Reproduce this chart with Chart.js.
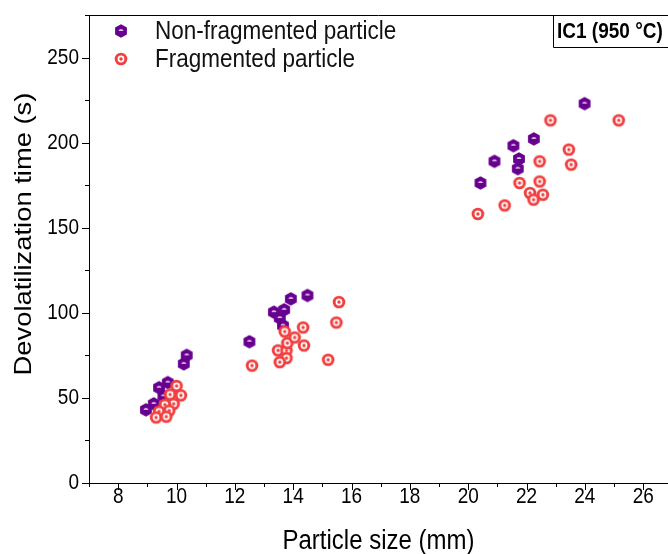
<!DOCTYPE html>
<html>
<head>
<meta charset="utf-8">
<script src="https://cdn.jsdelivr.net/npm/chart.js@4/dist/chart.umd.min.js"></script>
<style>
  html, body { margin: 0; padding: 0; background: #fff; overflow: hidden; }
  #wrap { width: 668px; height: 554px; position: relative; }
</style>
</head>
<body>
<div id="wrap"><canvas id="chart" width="668" height="554"></canvas></div>
<script>
// Particle size (mm) and devolatilization time (s), IC1 coal at 950 °C
const nonFragSize = [8.95, 9.22, 9.40, 9.70, 9.55, 10.25, 10.35,
                     12.50, 13.34, 13.69, 13.54, 13.65, 13.92, 14.49,
                     20.42, 20.90, 21.55, 21.74, 21.70, 22.25, 23.99];
const nonFragTime = [43, 46.5, 56, 59, 51, 70, 75,
                     83, 100.4, 101.8, 96.9, 92.5, 108.2, 110.2,
                     176.3, 189, 198.2, 190.4, 184.7, 202.2, 222.9];

const fragSize = [10.00, 9.78, 10.15, 9.90, 9.60, 9.75, 9.40, 9.30, 9.65,
                  12.59, 13.48, 13.77, 13.77, 13.54, 13.80, 14.05, 14.37, 14.34, 13.71, 15.20, 15.48, 15.57,
                  20.33, 21.25, 21.76, 22.12, 22.24, 22.56, 22.45, 22.45, 22.82, 23.45, 23.53, 25.16];
const fragTime = [57, 52, 51.5, 46.5, 46, 42.5, 42, 38.5, 39,
                  69.0, 77.9, 77.8, 73.4, 71.0, 82.2, 85.5, 80.8, 91.4, 89.0, 72.4, 94.3, 106.3,
                  158.1, 163.1, 176.3, 170.4, 166.5, 169.4, 177.2, 189, 213.1, 195.9, 187.1, 213.1];

const seriesNames = ['Non-fragmented particle', 'Fragmented particle'];
const panelLabel = 'IC1 (950 °C)';
const xTitle = 'Particle size (mm)';
const yTitle = 'Devolatilization time (s)';
const xTickValues = [8, 10, 12, 14, 16, 18, 20, 22, 24, 26];
const yTickValues = [0, 50, 100, 150, 200, 250];

const PURPLE = '#67008e';
const RED = '#f13f3f';
const FONT = '"Liberation Sans", Arial, sans-serif';
const TEXT_STRETCH = 1.14;   // glyphs are drawn slightly taller than wide

// Marker sprites: filled hexagon with a small highlight, and a target ring
function hexSprite() {
  const c = document.createElement('canvas');
  c.width = 16; c.height = 16;
  const g = c.getContext('2d');
  g.beginPath();
  for (let i = 0; i < 6; i++) {
    const a = -Math.PI / 2 + i * Math.PI / 3;
    const px = 8 + 6.8 * Math.cos(a), py = 8 + 6.8 * Math.sin(a);
    i ? g.lineTo(px, py) : g.moveTo(px, py);
  }
  g.closePath();
  g.fillStyle = PURPLE;
  g.fill();
  g.beginPath();
  g.ellipse(8, 7.8, 2.5, 1.6, 0, Math.PI, 2 * Math.PI);
  g.closePath();
  g.fillStyle = '#fff';
  g.fill();
  return c;
}
function ringSprite() {
  const c = document.createElement('canvas');
  c.width = 16; c.height = 16;
  const g = c.getContext('2d');
  g.fillStyle = RED;
  g.beginPath(); g.arc(8, 8, 6.3, 0, 2 * Math.PI); g.fill();
  g.fillStyle = '#fff';
  g.beginPath(); g.arc(8, 8, 3.4, 0, 2 * Math.PI); g.fill();
  g.fillStyle = RED;
  g.beginPath(); g.arc(8, 8, 1.7, 0, 2 * Math.PI); g.fill();
  return c;
}
const hexImg = hexSprite();
const ringImg = ringSprite();

const toPoints = (xs, ys) => xs.map((x, i) => ({ x: x, y: ys[i] }));

// Text drawn with a slight vertical stretch; rotated text stretches along its length
function stretchedText(ctx, text, x, y, font, align, rotated) {
  ctx.save();
  ctx.translate(x, y);
  if (rotated) {
    ctx.rotate(-Math.PI / 2);
    ctx.scale(TEXT_STRETCH, 1);
  } else {
    ctx.scale(1, TEXT_STRETCH);
  }
  ctx.font = font;
  ctx.textAlign = align;
  ctx.textBaseline = 'middle';
  ctx.fillText(text, 0, 0);
  ctx.restore();
}

// Tick marks and labels, frame top edge, axis titles, legend and panel label
const decorations = {
  id: 'decorations',
  afterDraw(chart) {
    const ctx = chart.ctx;
    const xs = chart.scales.x, ys = chart.scales.y;
    const area = chart.chartArea;
    ctx.save();
    ctx.strokeStyle = '#000';
    ctx.lineWidth = 1;
    ctx.beginPath();
    // x ticks: major on even values, minor on odd
    for (let v = 7; v <= 26; v++) {
      const px = Math.round(xs.getPixelForValue(v)) + 0.5;
      const len = v % 2 === 0 ? 7 : 4;
      ctx.moveTo(px, area.bottom);
      ctx.lineTo(px, area.bottom + len);
    }
    // y ticks: major every 50, minor every 25
    for (let v = 0; v <= 275; v += 25) {
      const py = Math.round(ys.getPixelForValue(v)) + 0.5;
      const len = v % 50 === 0 ? 7 : 4;
      ctx.moveTo(area.left, py);
      ctx.lineTo(area.left - len, py);
    }
    // top edge of the frame
    ctx.moveTo(area.left, Math.round(area.top) + 0.5);
    ctx.lineTo(area.right, Math.round(area.top) + 0.5);
    ctx.stroke();

    ctx.fillStyle = '#000';
    const tickFont = '19px ' + FONT;
    xTickValues.forEach(v => {
      stretchedText(ctx, String(v), xs.getPixelForValue(v), area.bottom + 14, tickFont, 'center', false);
    });
    yTickValues.forEach(v => {
      stretchedText(ctx, String(v), area.left - 10, ys.getPixelForValue(v), tickFont, 'right', false);
    });

    // axis titles
    const titleFont = '24px ' + FONT;
    stretchedText(ctx, xTitle, (area.left + area.right) / 2, 541, titleFont, 'center', false);
    stretchedText(ctx, yTitle, 24, 234, titleFont, 'center', true);

    // legend
    ctx.drawImage(hexImg, 121 - 8, 31 - 8);
    ctx.drawImage(ringImg, 121 - 8, 59 - 8);
    ctx.fillStyle = '#111';
    const legendFont = '22.5px ' + FONT;
    stretchedText(ctx, seriesNames[0], 155, 32, legendFont, 'left', false);
    stretchedText(ctx, seriesNames[1], 155, 60, legendFont, 'left', false);

    // panel label box
    ctx.beginPath();
    ctx.rect(553.5, Math.round(area.top) + 0.5, 120, 32);
    ctx.stroke();
    ctx.fillStyle = '#000';
    stretchedText(ctx, panelLabel, 557, 32, 'bold 19px ' + FONT, 'left', false);
    ctx.restore();
  }
};

const noPadding = scale => {
  scale.paddingLeft = 0; scale.paddingRight = 0;
  scale.paddingTop = 0; scale.paddingBottom = 0;
};

new Chart(document.getElementById('chart'), {
  type: 'scatter',
  data: {
    datasets: [
      {
        label: seriesNames[1],
        data: toPoints(fragSize, fragTime),
        pointStyle: ringImg,
        pointRadius: 6,
        order: 0
      },
      {
        label: seriesNames[0],
        data: toPoints(nonFragSize, nonFragTime),
        pointStyle: hexImg,
        pointRadius: 6,
        order: 1
      }
    ]
  },
  options: {
    responsive: false,
    animation: false,
    devicePixelRatio: 1,
    layout: { autoPadding: false, padding: { top: 15, right: 0, left: 0, bottom: 0 } },
    plugins: { legend: { display: false }, tooltip: { enabled: false } },
    scales: {
      x: {
        type: 'linear',
        min: 7,
        max: 26.85,
        afterBuildTicks(scale) {
          scale.ticks = xTickValues.map(v => ({ value: v }));
        },
        afterFit(scale) { scale.height = 71; noPadding(scale); },
        grid: { display: false, drawTicks: false },
        border: { display: true, color: '#000', width: 1 },
        ticks: { display: false },
        title: { display: false }
      },
      y: {
        type: 'linear',
        min: 0,
        max: 275,
        afterBuildTicks(scale) {
          scale.ticks = yTickValues.map(v => ({ value: v }));
        },
        afterFit(scale) { scale.width = 89; noPadding(scale); },
        grid: { display: false, drawTicks: false },
        border: { display: true, color: '#000', width: 1 },
        ticks: { display: false },
        title: { display: false }
      }
    }
  },
  plugins: [decorations]
});
</script>
</body>
</html>
